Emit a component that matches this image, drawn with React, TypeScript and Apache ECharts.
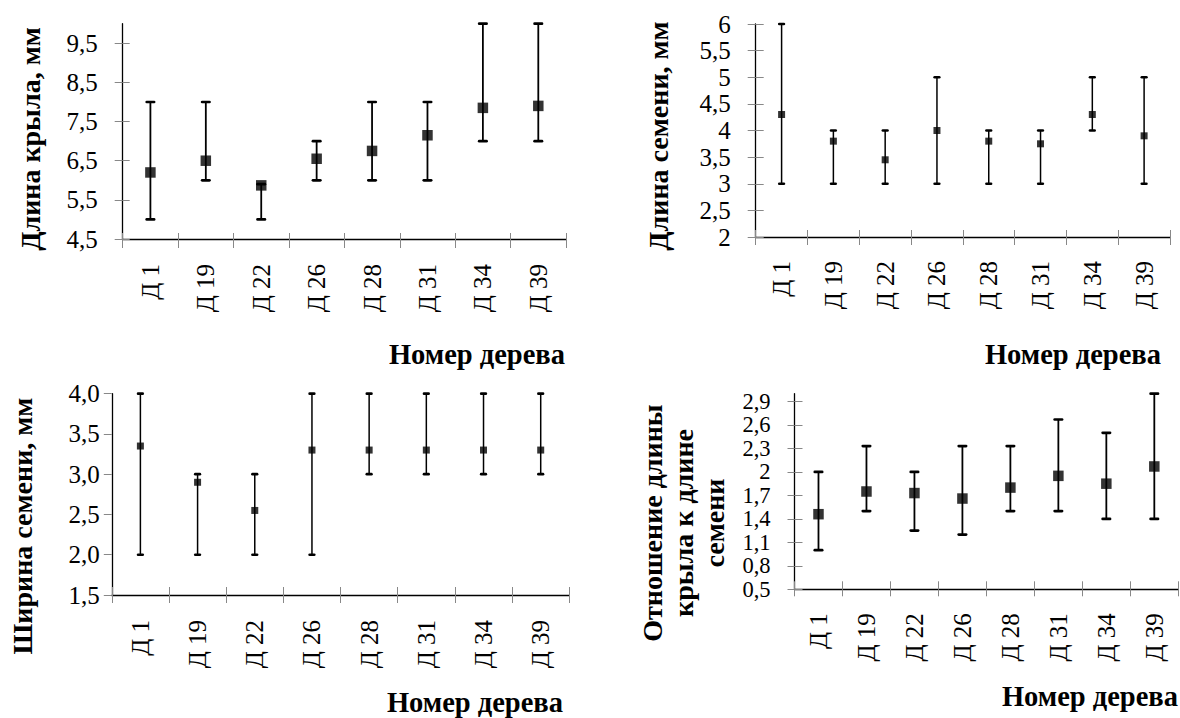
import React, { useEffect, useRef } from 'react';
import * as echarts from 'echarts';

const categories = ['Д 1', 'Д 19', 'Д 22', 'Д 26', 'Д 28', 'Д 31', 'Д 34', 'Д 39'];

// Panel 1: wing length
const wingMean = [6.2, 6.5, 5.87, 6.55, 6.75, 7.15, 7.85, 7.9];
const wingMin = [5, 6, 5, 6, 6, 6, 7, 7];
const wingMax = [8, 8, 5.9, 7, 8, 8, 10, 10];
const wingTicks = [4.5, 5.5, 6.5, 7.5, 8.5, 9.5];

// Panel 2: seed length
const seedLenMean = [4.3, 3.8, 3.45, 4.0, 3.8, 3.75, 4.3, 3.9];
const seedLenMin = [3, 3, 3, 3, 3, 3, 4, 3];
const seedLenMax = [6, 4, 4, 5, 4, 4, 5, 5];
const seedLenTicks = [2, 2.5, 3, 3.5, 4, 4.5, 5, 5.5, 6];

// Panel 3: seed width
const seedWidMean = [3.35, 2.9, 2.55, 3.3, 3.3, 3.3, 3.3, 3.3];
const seedWidMin = [2, 2, 2, 2, 3, 3, 3, 3];
const seedWidMax = [4, 3, 3, 4, 4, 4, 4, 4];
const seedWidTicks = [1.5, 2.0, 2.5, 3.0, 3.5, 4.0];

// Panel 4: ratio wing length / seed length
const ratioMean = [1.46, 1.75, 1.73, 1.66, 1.8, 1.95, 1.85, 2.07];
const ratioMin = [1.0, 1.5, 1.25, 1.2, 1.5, 1.5, 1.4, 1.4];
const ratioMax = [2.0, 2.33, 2.0, 2.33, 2.33, 2.67, 2.5, 3.0];
const ratioTicks = [0.5, 0.8, 1.1, 1.4, 1.7, 2, 2.3, 2.6, 2.9];

const xTitle = 'Номер дерева';
const yTitles = ['Длина крыла, мм', 'Длина семени, мм', 'Ширина семени, мм', 'Отношение длины\nкрыла к длине\nсемени'];

const FONT = "'Times New Roman', 'Liberation Serif', serif";
const TICK_COLOR = '#888888';

const fmtComma = (v: number) => String(v).replace('.', ',');
const fmtFixed1 = (v: number) => v.toFixed(1).replace('.', ',');

type Panel = {
  left: number; top: number; width: number; height: number;
  min: number; max: number; ticks: number[]; fmt: (v: number) => string;
  mean: number[]; lo: number[]; hi: number[];
  marker: number; capHalf: number; lw: number;
  yIn: number; yOut: number; xIn: number; xOut: number;
  yMargin: number; xMargin: number; yFont: number;
};

const panels: Panel[] = [
  { left: 122.7, top: 23.7, width: 443.3, height: 215.3, min: 4.5, max: 10, ticks: wingTicks, fmt: fmtComma,
    mean: wingMean, lo: wingMin, hi: wingMax, marker: 10.5, capHalf: 3.7, lw: 1.8,
    yIn: 7, yOut: 8, xIn: 6, xOut: 9, yMargin: 25, xMargin: 25, yFont: 25 },
  { left: 755.7, top: 24, width: 414.3, height: 213, min: 2, max: 6, ticks: seedLenTicks, fmt: fmtComma,
    mean: seedLenMean, lo: seedLenMin, hi: seedLenMax, marker: 7, capHalf: 2.3, lw: 1.5,
    yIn: 8, yOut: 8, xIn: 7, xOut: 8, yMargin: 25, xMargin: 24, yFont: 25 },
  { left: 111.8, top: 393.7, width: 457.5, height: 201.3, min: 1.5, max: 4.0, ticks: seedWidTicks, fmt: fmtFixed1,
    mean: seedWidMean, lo: seedWidMin, hi: seedWidMax, marker: 7, capHalf: 2.3, lw: 1.5,
    yIn: 0, yOut: 8, xIn: 8, xOut: 8, yMargin: 12, xMargin: 25, yFont: 25 },
  { left: 794.5, top: 393.7, width: 383.8, height: 195.6, min: 0.5, max: 3.0, ticks: ratioTicks, fmt: fmtComma,
    mean: ratioMean, lo: ratioMin, hi: ratioMax, marker: 10.5, capHalf: 3.7, lw: 1.8,
    yIn: 8, yOut: 7, xIn: 8, xOut: 7, yMargin: 24, xMargin: 24, yFont: 22.5 },
];

const xTitlePos = [
  { x: 565, y: 354 },
  { x: 1161, y: 354 },
  { x: 563, y: 702 },
  { x: 1178, y: 696 },
];
const yTitlePos = [
  { x: 30, y: 139 },
  { x: 658, y: 136 },
  { x: 22, y: 526 },
  { x: 683, y: 523 },
];

function buildOption() {
  const grid: any[] = [];
  const xAxis: any[] = [];
  const yAxis: any[] = [];
  const series: any[] = [];
  const graphic: any[] = [];

  panels.forEach((p, i) => {
    grid.push({ left: p.left, top: p.top, width: p.width, height: p.height, containLabel: false });
    xAxis.push({
      type: 'category', gridIndex: i, data: categories, boundaryGap: true, position: 'bottom',
      axisLine: { show: true, onZero: false, lineStyle: { color: '#000', width: 1.3 } },
      axisTick: { show: true, inside: false, length: p.xOut, interval: 0, lineStyle: { color: TICK_COLOR, width: 1 } },
      axisLabel: { show: true, interval: 0, rotate: 90, margin: p.xMargin, fontFamily: FONT, fontSize: 25, color: '#000' },
      splitLine: { show: false },
    });
    xAxis.push({
      type: 'category', gridIndex: i, data: categories, boundaryGap: true, position: 'bottom',
      axisLine: { show: false, onZero: false },
      axisTick: { show: p.xIn > 0, inside: true, length: p.xIn, interval: 0, lineStyle: { color: TICK_COLOR, width: 1 } },
      axisLabel: { show: false },
      splitLine: { show: false },
    });
    yAxis.push({
      type: 'value', gridIndex: i, min: p.min, max: p.max, position: 'left',
      axisLine: { show: true, onZero: false, lineStyle: { color: '#000', width: 1.3 } },
      axisTick: { show: true, inside: false, length: p.yOut, customValues: p.ticks, lineStyle: { color: TICK_COLOR, width: 1 } },
      axisLabel: { show: true, customValues: p.ticks, formatter: (v: number) => p.fmt(v), margin: p.yMargin,
        showMinLabel: true, showMaxLabel: true, hideOverlap: false,
        fontFamily: FONT, fontSize: p.yFont, lineHeight: p.yFont, color: '#000' },
      splitLine: { show: false },
    });
    yAxis.push({
      type: 'value', gridIndex: i, min: p.min, max: p.max, position: 'left',
      axisLine: { show: false, onZero: false },
      axisTick: { show: p.yIn > 0, inside: true, length: p.yIn, customValues: p.ticks, lineStyle: { color: TICK_COLOR, width: 1 } },
      axisLabel: { show: false },
      splitLine: { show: false },
    });

    const capHalf = p.capHalf;
    const lw = p.lw;
    series.push({
      type: 'custom', xAxisIndex: 2 * i, yAxisIndex: 2 * i, z: 2,
      encode: { x: 0, y: [1, 2] },
      data: categories.map((_, k) => [k, p.lo[k], p.hi[k]]),
      renderItem: (params: any, api: any) => {
        const k = api.value(0);
        const a = api.coord([k, api.value(1)]);
        const b = api.coord([k, api.value(2)]);
        const capStyle = { stroke: '#000', lineWidth: 2.7, lineCap: 'round' };
        return {
          type: 'group',
          children: [
            { type: 'line', shape: { x1: a[0], y1: a[1], x2: b[0], y2: b[1] }, style: { stroke: '#000', lineWidth: lw } },
            { type: 'line', shape: { x1: a[0] - capHalf, y1: a[1], x2: a[0] + capHalf, y2: a[1] }, style: capStyle },
            { type: 'line', shape: { x1: b[0] - capHalf, y1: b[1], x2: b[0] + capHalf, y2: b[1] }, style: capStyle },
          ],
        };
      },
    });
    series.push({
      type: 'scatter', xAxisIndex: 2 * i, yAxisIndex: 2 * i, z: 3,
      symbol: 'rect', symbolSize: p.marker,
      itemStyle: { color: '#000' },
      data: p.mean,
    });

    graphic.push({
      type: 'text', x: xTitlePos[i].x, y: xTitlePos[i].y,
      style: { text: xTitle, fontFamily: FONT, fontSize: 28.5, fontWeight: 'bold', fill: '#000',
        align: 'right', verticalAlign: 'middle', textAlign: 'right', textVerticalAlign: 'middle' },
    });
    graphic.push({
      type: 'text', x: yTitlePos[i].x, y: yTitlePos[i].y, rotation: Math.PI / 2,
      style: { text: yTitles[i], fontFamily: FONT, fontSize: 28, fontWeight: 'bold', fill: '#000', lineHeight: 31,
        align: 'center', verticalAlign: 'middle', textAlign: 'center', textVerticalAlign: 'middle' },
    });
  });

  return {
    animation: false,
    backgroundColor: '#fff',
    grid, xAxis, yAxis, series, graphic,
  };
}

export default function App() {
  const ref = useRef<HTMLDivElement>(null);
  useEffect(() => {
    document.body.style.margin = '0';
    if (!ref.current) return;
    const chart = echarts.init(ref.current, null, { renderer: 'svg' });
    chart.setOption(buildOption() as any);
    return () => chart.dispose();
  }, []);
  return <div ref={ref} style={{ width: 1180, height: 718, background: '#fff' }} />;
}
